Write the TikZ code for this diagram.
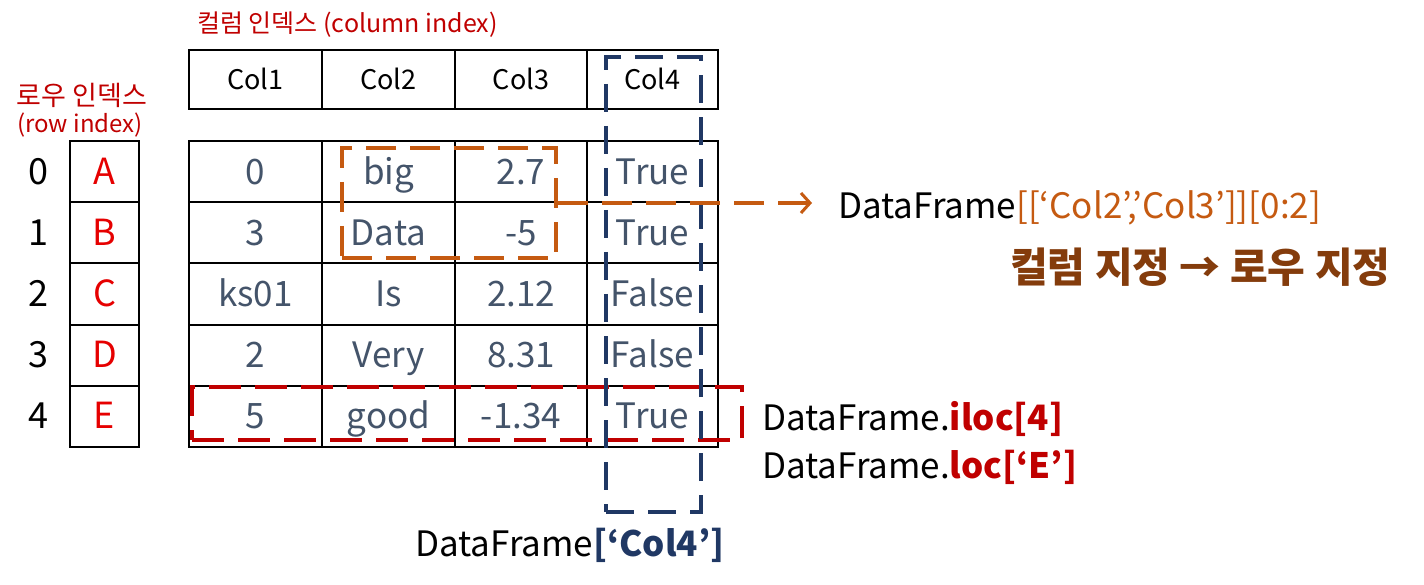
\documentclass[tikz,border=0pt]{standalone}
\usepackage{fontspec}
\setmainfont{Noto Sans CJK KR}
\usetikzlibrary{arrows.meta}
\definecolor{cellgray}{HTML}{44546A}
\definecolor{rowred}{HTML}{E60000}
\definecolor{darkred}{HTML}{C00000}
\definecolor{selorange}{HTML}{C55A11}
\definecolor{rulebrown}{HTML}{843C0C}
\definecolor{navy}{HTML}{203864}
\tikzset{
  cellbase/.style={draw=black, line width=2pt, inner sep=0pt, minimum height=61.2pt, text height=25pt, text depth=0pt},
  hcell/.style={cellbase, minimum height=59pt, text height=20pt, font=\fontsize{27}{32}\selectfont, text=black},
  dcell/.style={cellbase, font=\fontsize{35}{40}\selectfont, text=cellgray},
  rcell/.style={cellbase, minimum width=69pt, font=\fontsize{36}{40}\selectfont, text=rowred},
  numlbl/.style={inner sep=0pt, text height=25pt, text depth=0pt, font=\fontsize{36}{40}\selectfont},
  lbl/.style={inner sep=0pt, font=\fontsize{35}{40}\selectfont},
  selbox/.style={draw, line width=4pt, inner sep=0pt, dash pattern=on 30pt off 14pt},
}
\begin{document}
\begin{tikzpicture}[x=1pt,y=-1pt]
\useasboundingbox[fill=white] (0,0) rectangle (1424,585);
% titles
\node[anchor=base west, inner sep=0pt, font=\fontsize{25}{30}\selectfont, text=darkred] (ctitle) at (197,33) {컬럼 인덱스 (column index)};
\node[anchor=base, inner sep=0pt, font=\fontsize{27}{30}\selectfont, text=darkred] (rtitle1) at (82,106) {로우 인덱스};
\node[anchor=base, inner sep=0pt, font=\fontsize{24}{28}\selectfont, text=darkred] (rtitle2) at (80,133) {(row index)};
% header
\node[hcell, minimum width=133pt] (h1) at (255.5,79.5) {Col1};
\node[hcell, minimum width=133pt] (h2) at (388.5,79.5) {Col2};
\node[hcell, minimum width=132pt] (h3) at (521,79.5) {Col3};
\node[hcell, minimum width=131pt] (h4) at (652.5,79.5) {Col4};
% data
\foreach \r/\y/\a/\b/\c/\d/\L in {0/171.6/0/big/2.7/True/A, 1/232.8/3/Data/-5/True/B, 2/294/ks01/Is/2.12/False/C, 3/355.2/2/Very/8.31/False/D, 4/416.4/5/good/-1.34/True/E}{
  \node[numlbl] (n\r) at (38,\y) {\r};
  \node[rcell] (r\r) at (104.5,\y) {\L};
  \node[dcell, minimum width=133pt] (c\r a) at (255.5,\y) {\a};
  \node[dcell, minimum width=133pt] (c\r b) at (388.5,\y) {\b};
  \node[dcell, minimum width=132pt] (c\r c) at (521,\y) {\c};
  \node[dcell, minimum width=131pt] (c\r d) at (652.5,\y) {\d};
}
% selections
\node[selbox, draw=darkred, dash pattern=on 32pt off 14pt, minimum width=550pt, minimum height=53pt] (selR) at (467,413.5) {};
\node[selbox, draw=navy, line width=3.5pt, dash pattern=on 28pt off 14pt, minimum width=95pt, minimum height=455pt] (selN) at (653.5,284.5) {};
\node[selbox, draw=selorange, minimum width=214pt, minimum height=110pt] (selO) at (449,203) {};
% right texts
\node[lbl, anchor=base west] (dfcols) at (838,219) {DataFrame\textcolor{selorange}{[[‘Col2’,’Col3’]][0:2]}};
\coordinate (arrEnd) at (812,203);
\draw[selorange, line width=4pt, dash pattern=on 30pt off 14pt, -{Straight Barb[length=9pt,width=20pt,line width=3pt]}] (selO.east) -- (arrEnd);
\node[anchor=base west, inner sep=0pt, font=\bfseries\fontsize{41}{46}\selectfont, text=rulebrown] (rule) at (1010,283) {컬럼 지정 → 로우 지정};
\node[lbl, anchor=base west] (iloc) at (762,430) {DataFrame.\textcolor{darkred}{\bfseries iloc[4]}};
\node[lbl, anchor=base west] (loc) at (762,478) {DataFrame.\textcolor{darkred}{\bfseries loc[‘E’]}};
\node[lbl, anchor=base west] (col4) at (415,556) {DataFrame\textcolor{navy}{\bfseries [‘Col4’]}};
\end{tikzpicture}
\end{document}
